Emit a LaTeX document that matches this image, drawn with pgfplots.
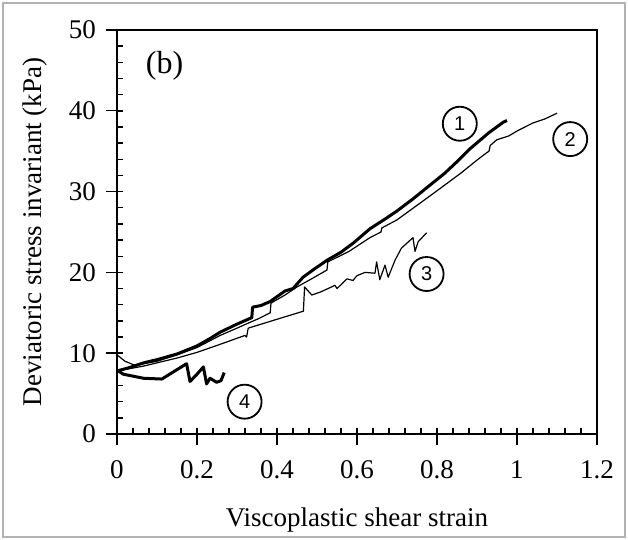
\documentclass[border=0pt]{standalone}
\usepackage{pgfplots}
\pgfplotsset{compat=1.18}
\usepackage{fontspec}
\setmainfont{Liberation Serif}
\newfontfamily\labelsans{Liberation Sans}
\begin{document}
\begin{tikzpicture}
\path[use as bounding box] (-58.5pt,-53pt) rectangle (255.5pt,217pt);
\draw[gray!60, line width=0.7pt] (-57pt,-51.5pt) rectangle (254pt,215.5pt);
\begin{axis}[
  at={(0,0)}, anchor=south west,
  scale only axis, width=240pt, height=202pt,
  xmin=0, xmax=1.2, ymin=0, ymax=50,
  xtick={0,0.2,0.4,0.6,0.8,1,1.2}, ytick={0,10,20,30,40,50},
  minor x tick num=4, minor y tick num=4,
  xtick pos=bottom, ytick pos=left,
  tick align=inside,
  major tick length=3pt, minor tick length=3pt,
  every tick/.style={black, line width=0.7pt},
  axis line style={line width=1pt},
  /pgf/number format/assume math mode=true,
  ticklabel style={font=\fontsize{13.5}{15}\selectfont},
  xticklabel style={anchor=center, yshift=-18pt},
  yticklabel style={anchor=east, xshift=-7pt},
  xlabel={Viscoplastic shear strain},
  ylabel={Deviatoric stress invariant (kPa)},
  label style={font=\fontsize{13.5}{15}\selectfont},
  xlabel style={at={(axis description cs:0.5,-0.213)}, anchor=center},
  ylabel style={at={(axis description cs:-0.171,0.5)}, anchor=center, rotate=0},
  clip=false,
]
% curve 1 (thick)
\addplot[black, line width=1.5pt, line join=round] coordinates {
(0,7.8) (0.03,8.2) (0.066,8.8) (0.10,9.2) (0.15,9.9) (0.2,10.9) (0.232,11.8)
(0.258,12.6) (0.3,13.6) (0.337,14.4) (0.339,15.7) (0.36,15.9) (0.383,16.4)
(0.42,17.7) (0.44,18.0) (0.465,19.4) (0.49,20.3) (0.525,21.5) (0.56,22.5)
(0.59,23.6) (0.6325,25.4) (0.67,26.6) (0.7,27.6) (0.74,29.1) (0.7825,30.8)
(0.82,32.3) (0.85,33.7) (0.8825,35.3) (0.93,37.3) (0.966,38.6) (0.975,38.8)
};
% curve 2 (thin)
\addplot[black, line width=0.6pt, line join=round] coordinates {
(0,9.8) (0.02,9.0) (0.045,8.5) (0.1,9.0) (0.15,9.8) (0.2,10.7) (0.258,12.2)
(0.3,13.1) (0.327,13.7) (0.355,14.3) (0.383,15.0) (0.385,16.2) (0.42,17.2)
(0.45,18.2) (0.49,19.3) (0.525,20.3) (0.527,21.3) (0.58,22.6) (0.6325,24.3)
(0.66,25.0) (0.662,25.5) (0.7,26.5) (0.75,28.3) (0.8,30.1) (0.86,32.3)
(0.9,33.9) (0.924,34.8) (0.93,35.0) (0.933,35.7) (0.949,36.4) (0.98,36.9)
(1.0,37.5) (1.04,38.5) (1.07,39.0) (1.10,39.7)
};
% curve 3 (thin)
\addplot[black, line width=0.6pt, line join=round] coordinates {
(0,7.8) (0.066,8.4) (0.15,9.4) (0.2,10.1) (0.258,11.1) (0.32,12.2) (0.324,12.0)
(0.328,13.1) (0.4,14.2) (0.466,15.2) (0.469,18.2) (0.487,17.2) (0.51,17.6)
(0.532,18.1) (0.545,18.4) (0.55,18.0) (0.575,19.2) (0.59,19.0) (0.6,19.6)
(0.62,20.0) (0.645,19.9) (0.649,21.3) (0.657,19.1) (0.67,20.9) (0.678,19.4)
(0.695,21.5) (0.711,23.0) (0.74,24.3) (0.745,22.6) (0.753,23.8) (0.774,24.9)
};
% curve 4 (thick)
\addplot[black, line width=1.5pt, line join=round] coordinates {
(0,7.9) (0.016,7.4) (0.066,6.9) (0.112,6.8) (0.174,8.7) (0.1825,6.5) (0.2,7.4)
(0.216,8.3) (0.224,6.2) (0.2325,6.9) (0.249,6.4) (0.26,6.6) (0.268,7.6)
};
\node[font=\fontsize{16}{18}\selectfont] at (axis cs:0.119,45.6) {(b)};
\tikzset{circ/.style={circle, draw, line width=0.9pt, minimum size=17pt, inner sep=0pt, font=\labelsans\fontsize{10}{12}\selectfont}}
\node[circ] at (axis cs:0.857,38.4) {1};
\node[circ] at (axis cs:1.133,36.5) {2};
\node[circ] at (axis cs:0.774,19.8) {3};
\node[circ] at (axis cs:0.319,4.0) {4};
\end{axis}
\begin{axis}[
  at={(0,0)}, anchor=south west,
  scale only axis, width=240pt, height=202pt,
  xmin=0, xmax=1.2, ymin=0, ymax=50,
  xtick={0,0.2,0.4,0.6,0.8,1,1.2}, ytick={0,10,20,30,40,50},
  xticklabels={}, yticklabels={},
  minor tick num=0,
  xtick pos=bottom, ytick pos=left,
  tick align=outside, major tick length=5.5pt,
  every tick/.style={black, line width=0.7pt},
  axis line style={line width=1pt},
]
\end{axis}
\end{tikzpicture}
\end{document}
